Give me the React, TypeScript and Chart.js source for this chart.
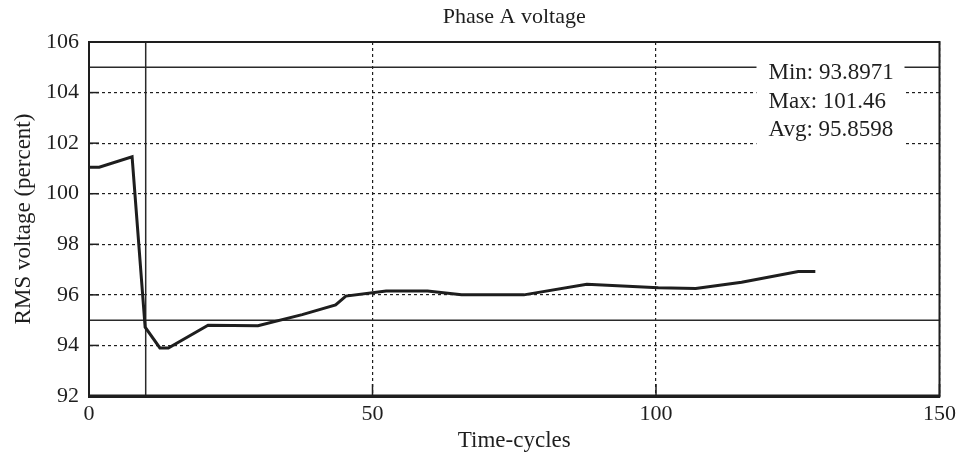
import React, { useEffect, useRef } from "react";
import { Chart, registerables } from "chart.js";

Chart.register(...registerables);

// Data
const timeCycles = [0, 1.8, 7.6, 9.9, 12.5, 14, 21, 29.8, 37.6, 43.5, 45.3, 52.4, 59.7, 65.7, 76.7, 87.8, 100.4, 107, 115.1, 125.1, 128.1];
const voltage = [101.05, 101.05, 101.46, 94.72, 93.9, 93.9, 94.8, 94.78, 95.22, 95.6, 95.95, 96.15, 96.15, 96.0, 96.0, 96.42, 96.28, 96.25, 96.5, 96.92, 96.92];

const xTicks = [0, 50, 100, 150];
const yTicks = [92, 94, 96, 98, 100, 102, 104, 106];

const limitHigh = 105;
const limitLow = 95;
const eventCycle = 10;

const statLabels = ["Min: 93.8971", "Max: 101.46", "Avg: 95.8598"];

const chartTitle = "Phase A voltage";
const xTitle = "Time-cycles";
const yTitle = "RMS voltage (percent)";

const FONT = '"Liberation Serif", "Times New Roman", serif';
const INK = "#1e1e1e";

const overlay = {
  id: "overlay",
  afterDatasetsDraw(chart: any) {
    const { ctx, chartArea: a, scales } = chart;
    ctx.save();
    ctx.strokeStyle = INK;
    ctx.lineWidth = 1.5;
    scales.y.ticks.forEach((t: any) => {
      const py = scales.y.getPixelForValue(t.value);
      ctx.beginPath();
      ctx.moveTo(a.left, py);
      ctx.lineTo(a.left + 10, py);
      ctx.stroke();
    });
    scales.x.ticks.forEach((t: any) => {
      const px = scales.x.getPixelForValue(t.value);
      ctx.beginPath();
      ctx.moveTo(px, a.bottom);
      ctx.lineTo(px, a.bottom - 12);
      ctx.stroke();
    });
    // frame
    ctx.lineWidth = 2;
    ctx.strokeRect(a.left, a.top, a.right - a.left, a.bottom - a.top);
    ctx.lineWidth = 3;
    ctx.beginPath();
    ctx.moveTo(a.left, a.bottom);
    ctx.lineTo(a.right, a.bottom);
    ctx.stroke();
    // stats box
    const bx = a.right - 183;
    const by = a.top + 16;
    ctx.fillStyle = "#ffffff";
    ctx.fillRect(bx, by, 148, 92);
    ctx.fillStyle = INK;
    ctx.font = "23px " + FONT;
    ctx.textBaseline = "middle";
    ctx.textAlign = "left";
    statLabels.forEach((s, i) => {
      ctx.fillText(s, a.right - 171, a.top + 31 + i * 28.5);
    });
    // title centred over the plot area
    ctx.font = "22px " + FONT;
    ctx.textAlign = "center";
    ctx.fillText(chartTitle, (a.left + a.right) / 2, a.top - 25);
    ctx.restore();
  },
};

export default function App() {
  const ref = useRef<HTMLCanvasElement | null>(null);

  useEffect(() => {
    if (!ref.current) return;
    const lineStyle = { borderColor: "#2a2a2a", borderWidth: 1.5, pointRadius: 0, fill: false };
    const chart = new Chart(ref.current, {
      type: "line",
      data: {
        datasets: [
          {
            data: timeCycles.map((x, i) => ({ x, y: voltage[i] })),
            borderColor: INK,
            borderWidth: 3,
            pointRadius: 0,
            tension: 0,
            fill: false,
          },
          { ...lineStyle, data: [{ x: xTicks[0], y: limitHigh }, { x: xTicks[xTicks.length - 1], y: limitHigh }] },
          { ...lineStyle, data: [{ x: xTicks[0], y: limitLow }, { x: xTicks[xTicks.length - 1], y: limitLow }] },
          { ...lineStyle, data: [{ x: eventCycle, y: yTicks[0] }, { x: eventCycle, y: yTicks[yTicks.length - 1] }] },
        ],
      } as any,
      options: {
        animation: false,
        responsive: false,
        layout: { padding: { left: 0, right: 21, top: 42, bottom: 0 } },
        plugins: {
          legend: { display: false },
          tooltip: { enabled: false },
          title: { display: false },
        },
        scales: {
          x: {
            type: "linear",
            min: xTicks[0],
            max: xTicks[xTicks.length - 1],
            afterBuildTicks: (s: any) => {
              s.ticks = xTicks.map((v) => ({ value: v }));
            },
            afterFit: (s: any) => {
              s.height = 61;
            },
            ticks: {
              color: INK,
              font: { family: FONT, size: 22 },
              padding: 5,
              maxRotation: 0,
            },
            grid: { color: INK, lineWidth: 1.2, drawTicks: false },
            border: { color: INK, width: 3, dash: [3, 3] },
            title: {
              display: true,
              text: xTitle,
              color: INK,
              font: { family: FONT, size: 23 },
              padding: { top: 0, bottom: 2 },
            },
          },
          y: {
            type: "linear",
            min: yTicks[0],
            max: yTicks[yTicks.length - 1],
            afterBuildTicks: (s: any) => {
              s.ticks = yTicks.map((v) => ({ value: v }));
            },
            afterFit: (s: any) => {
              s.width = 89;
            },
            ticks: {
              color: INK,
              font: { family: FONT, size: 22 },
              padding: 10,
            },
            grid: { color: INK, lineWidth: 1.2, drawTicks: false },
            border: { color: INK, width: 2, dash: [3, 3] },
            title: {
              display: true,
              text: yTitle,
              color: INK,
              font: { family: FONT, size: 23 },
              padding: { top: 10, bottom: 0 },
            },
          },
        },
      } as any,
      plugins: [overlay],
    });
    return () => chart.destroy();
  }, []);

  return (
    <div style={{ position: "absolute", left: 0, top: 0, width: 961, height: 457, background: "#fff" }}>
      <canvas ref={ref} width={961} height={457} style={{ display: "block" }} />
    </div>
  );
}
